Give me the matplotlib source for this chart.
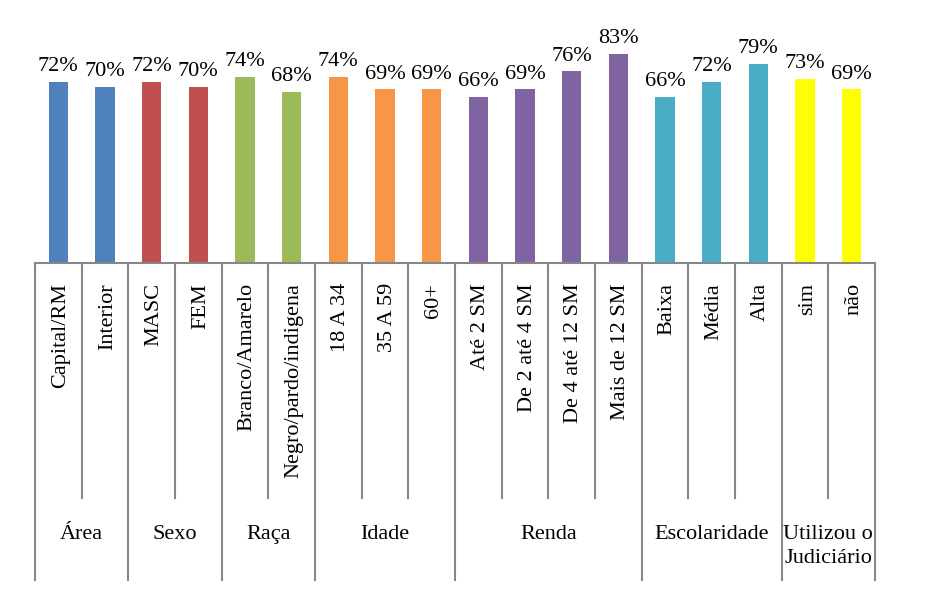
import matplotlib
matplotlib.use("Agg")
import matplotlib.pyplot as plt
import matplotlib.transforms as mtransforms

categories = ["Capital/RM", "Interior", "MASC", "FEM", "Branco/Amarelo",
              "Negro/pardo/indigena", "18 A 34", "35 A 59", "60+",
              "Até 2 SM", "De 2 até 4 SM", "De 4 até 12 SM", "Mais de 12 SM",
              "Baixa", "Média", "Alta", "sim", "não"]
values = [72, 70, 72, 70, 74, 68, 74, 69, 69, 66, 69, 76, 83, 66, 72, 79, 73, 69]
groups = ["Área", "Sexo", "Raça", "Idade", "Renda", "Escolaridade",
          "Utilizou o\nJudiciário"]
group_sizes = [2, 2, 2, 3, 4, 3, 2]
group_colors = ["#4F81BD", "#C0504D", "#9BBB59", "#F79646", "#8064A2",
                "#4BACC6", "#FFFF00"]

W, H = 945, 591
plt.rcParams['font.family'] = ['Liberation Serif', 'DejaVu Serif']
fig = plt.figure(figsize=(W / 100, H / 100), dpi=100)

left_px, right_px, base_px, top_px = 35, 875, 263, 30
ax = fig.add_axes([left_px / W, 1 - base_px / H,
                   (right_px - left_px) / W, (base_px - top_px) / H])

colors = []
for c, n in zip(group_colors, group_sizes):
    colors += [c] * n

x = list(range(len(categories)))
ax.bar(x, values, width=0.41, color=colors, zorder=2)
ax.set_xlim(-0.5, len(categories) - 0.5)
scale = 2.52  # px per %
ax.set_ylim(0, (base_px - top_px) / scale)

FS = 16
for xi, v in zip(x, values):
    ax.annotate(f"{v}%", (xi, v), xytext=(0, 4), textcoords="offset points",
                ha="center", va="bottom", fontsize=FS, color="black")

for s in ["top", "right", "left"]:
    ax.spines[s].set_visible(False)
ax.spines["bottom"].set_color("#878787")
ax.spines["bottom"].set_linewidth(1.5)
ax.set_xticks([])
ax.set_yticks([])

trans = mtransforms.blended_transform_factory(ax.transData, fig.transFigure)
def fy(p):
    return 1 - p / H

# category labels
for xi, lab in zip(x, categories):
    ax.text(xi + 0.05, fy(283), lab, transform=trans, rotation=90, ha="center",
            va="top", fontsize=FS, color="black")

# separators
gline = dict(color="#878787", linewidth=1.5, clip_on=False)
boundaries_major = [-0.5]
pos = -0.5
for n in group_sizes:
    pos += n
    boundaries_major.append(pos)
for b in range(len(categories) + 1):
    bx = b - 0.5
    if bx in boundaries_major:
        ax.plot([bx, bx], [fy(base_px), fy(580)], transform=trans, **gline)
    else:
        ax.plot([bx, bx], [fy(base_px), fy(498)], transform=trans, **gline)

# group labels
start = -0.5
for g, n in zip(groups, group_sizes):
    cx = start + n / 2
    for k, line in enumerate(g.split("\n")):
        ax.text(cx, fy(539 + 24 * k), line, transform=trans, ha="center",
                va="baseline", fontsize=FS, color="black")
    start += n

fig.savefig("out.png", dpi=100)
